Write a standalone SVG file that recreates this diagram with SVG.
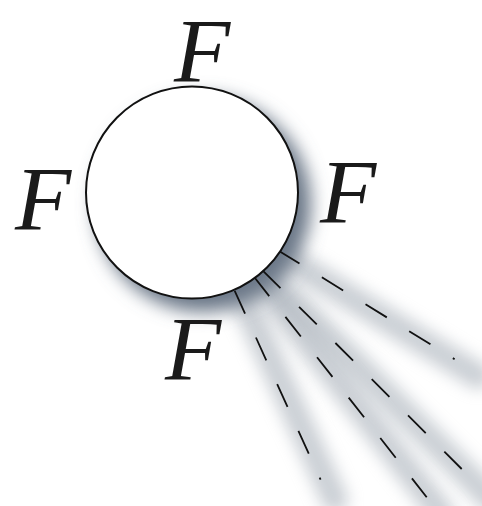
<svg xmlns="http://www.w3.org/2000/svg" width="482" height="506" viewBox="0 0 482 506">
  <defs>
    <filter id="blurBig" x="-50%" y="-50%" width="200%" height="200%">
      <feGaussianBlur stdDeviation="9"/>
    </filter>
    <filter id="blurRay" x="-50%" y="-50%" width="200%" height="200%">
      <feGaussianBlur stdDeviation="8"/>
    </filter>
  </defs>
  <style>
    .lbl { font-family: "Liberation Serif", "DejaVu Serif", serif; font-style: italic; font-size: 92px; fill: #1a1a1a; text-anchor: middle; }
    .ray { stroke: #111; stroke-width: 1.8; fill: none; stroke-dasharray: 25 26.3; stroke-linecap: butt; }
    .rayshadow { stroke: #97a0ab; stroke-width: 26; fill: none; stroke-linecap: round; opacity: 0.5; filter: url(#blurRay); }
  </style>
  <rect width="482" height="506" fill="#ffffff"/>
  <g id="shadows">
    <line class="rayshadow" x1="286" y1="258" x2="478" y2="376"/>
    <line class="rayshadow" x1="271" y1="279" x2="492" y2="500"/>
    <line class="rayshadow" x1="262" y1="284" x2="442" y2="514"/>
    <line class="rayshadow" x1="243" y1="299" x2="335" y2="500"/>
    <circle cx="203" cy="204" r="108" fill="#6b7787" filter="url(#blurBig)"/>
  </g>
  <g id="connectors">
    <line class="ray" x1="278.2" y1="250.4" x2="454.6" y2="359.2"/>
    <line class="ray" x1="262.75" y1="270.55" x2="461.7" y2="469"/>
    <line class="ray" x1="253.8" y1="276.45" x2="426.7" y2="497.3"/>
    <line class="ray" x1="234.7" y1="290.8" x2="320.6" y2="479.7"/>
  </g>
  <g id="circle">
    <circle cx="192" cy="192.5" r="106" fill="#ffffff" stroke="#111" stroke-width="2"/>
  </g>
  <g id="label-top"><text class="lbl" x="202" y="82">F</text></g>
  <g id="label-left"><text class="lbl" x="43" y="230">F</text></g>
  <g id="label-right"><text class="lbl" x="348" y="223">F</text></g>
  <g id="label-bottom"><text class="lbl" x="193" y="380">F</text></g>
</svg>
